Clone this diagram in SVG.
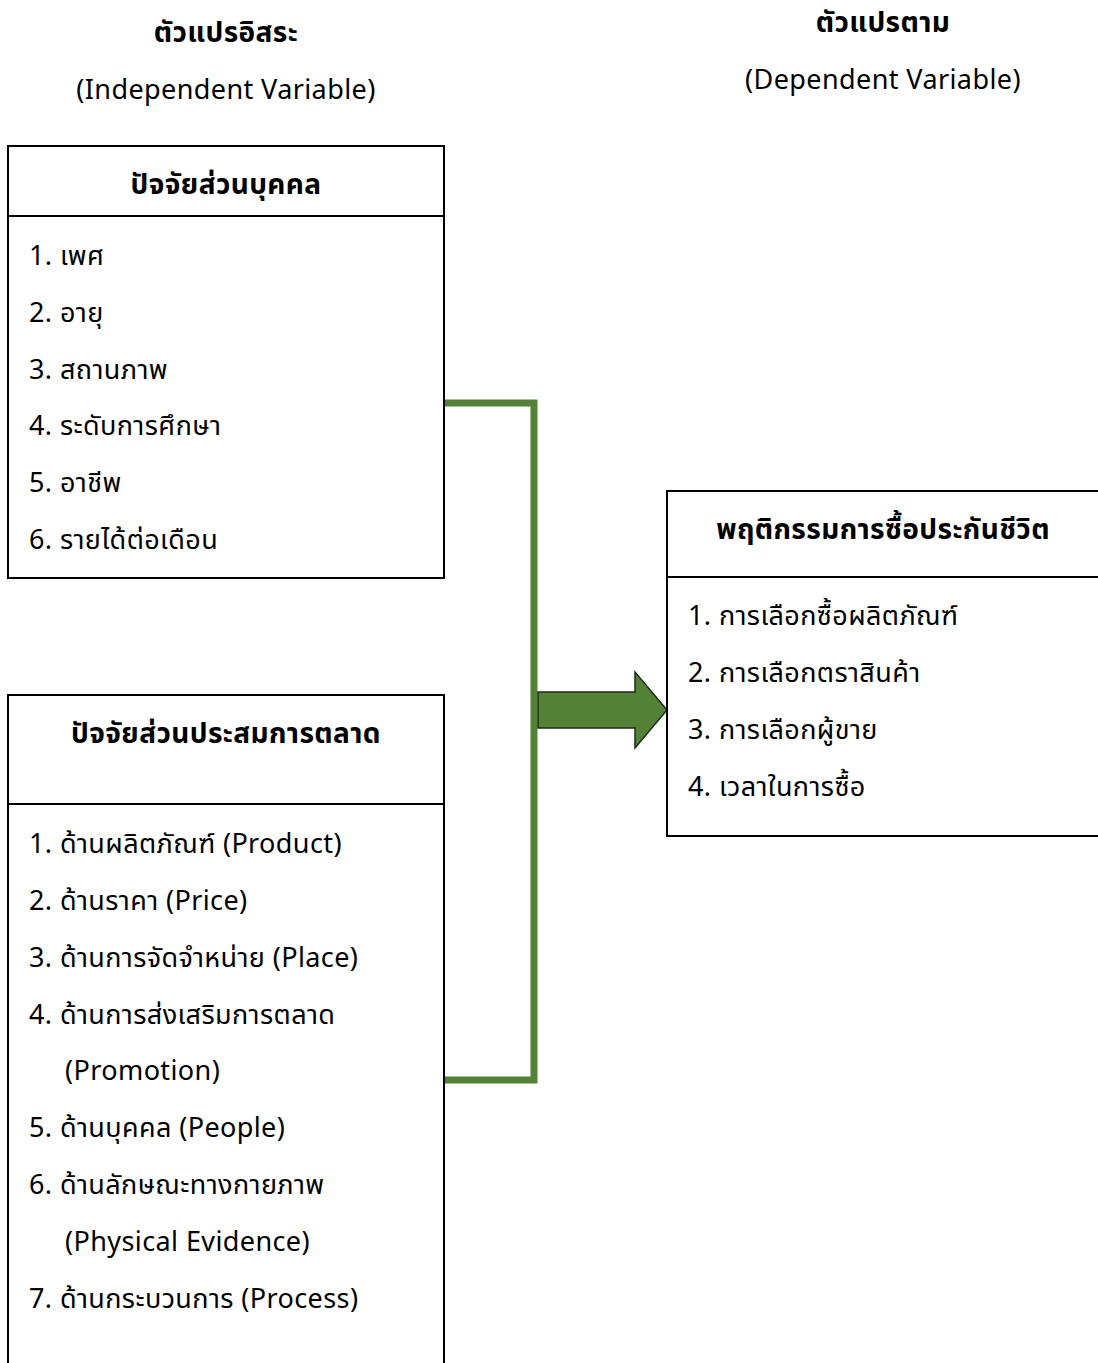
<svg xmlns="http://www.w3.org/2000/svg" width="1098" height="1363" viewBox="0 0 1098 1363">
<style>
text{font-family:"Noto Sans","Noto Sans Thai","DejaVu Sans",sans-serif;font-size:27px;letter-spacing:0.4px;fill:#000}
.b{font-weight:bold;font-size:28px}
.c{text-anchor:middle}
.box{fill:#fff;stroke:#000;stroke-width:2}
.div{stroke:#000;stroke-width:2}
.conn{fill:none;stroke:#538135;stroke-width:7}
</style>
<rect width="1098" height="1363" fill="#fff"/>
<g id="titles">
<text class="b c" x="226" y="42">ตัวแปรอิสระ</text>
<text class="c" x="226" y="99">(Independent Variable)</text>
<text class="b c" x="883" y="32">ตัวแปรตาม</text>
<text class="c" x="883" y="89">(Dependent Variable)</text>
</g>
<g id="connectors">
<path class="conn" d="M444 403 H534 V1080 H444"/>
<path d="M538 692 H635 V672 L667 710 L635 748 V728 H538 Z" fill="#538135" stroke="#1f2d14" stroke-width="1.5"/>
</g>
<g id="personal">
<rect class="box" x="8" y="146" width="436" height="432"/>
<line class="div" x1="8" y1="216" x2="444" y2="216"/>
<text class="b c" x="226" y="194">ปัจจัยส่วนบุคคล</text>
<text x="29" y="265">1. เพศ</text>
<text x="29" y="322">2. อายุ</text>
<text x="29" y="379">3. สถานภาพ</text>
<text x="29" y="435">4. ระดับการศึกษา</text>
<text x="29" y="492">5. อาชีพ</text>
<text x="29" y="549">6. รายได้ต่อเดือน</text>
</g>
<g id="marketing">
<rect class="box" x="8" y="695" width="436" height="680"/>
<line class="div" x1="8" y1="804" x2="444" y2="804"/>
<text class="b c" x="226" y="743">ปัจจัยส่วนประสมการตลาด</text>
<text x="29" y="853">1. ด้านผลิตภัณฑ์ (Product)</text>
<text x="29" y="910">2. ด้านราคา (Price)</text>
<text x="29" y="967">3. ด้านการจัดจำหน่าย (Place)</text>
<text x="29" y="1024">4. ด้านการส่งเสริมการตลาด</text>
<text x="65" y="1080">(Promotion)</text>
<text x="29" y="1137">5. ด้านบุคคล (People)</text>
<text x="29" y="1194">6. ด้านลักษณะทางกายภาพ</text>
<text x="65" y="1251">(Physical Evidence)</text>
<text x="29" y="1308">7. ด้านกระบวนการ (Process)</text>
</g>
<g id="behavior">
<rect class="box" x="667" y="491" width="440" height="345"/>
<line class="div" x1="667" y1="577" x2="1098" y2="577"/>
<text class="b c" x="883" y="539">พฤติกรรมการซื้อประกันชีวิต</text>
<text x="688" y="625">1. การเลือกซื้อผลิตภัณฑ์</text>
<text x="688" y="682">2. การเลือกตราสินค้า</text>
<text x="688" y="739">3. การเลือกผู้ขาย</text>
<text x="688" y="796">4. เวลาในการซื้อ</text>
</g>
</svg>
